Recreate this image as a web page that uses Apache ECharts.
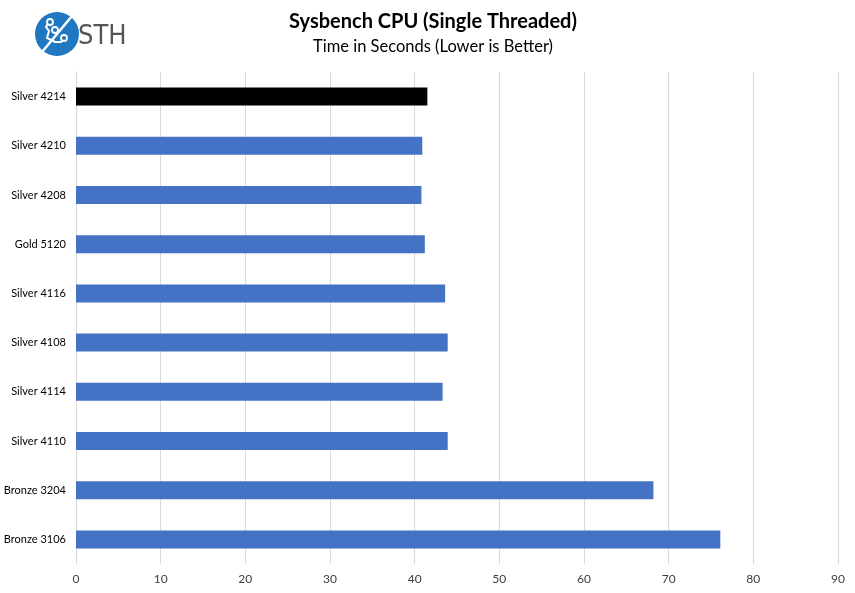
<!DOCTYPE html>
<html><head><meta charset="utf-8">
<script src="https://cdn.jsdelivr.net/npm/echarts@6/dist/echarts.min.js"></script>
<style>html,body{margin:0;padding:0;background:#fff}#c{width:855px;height:593px}</style>
</head><body><div id="c"></div>
<script>
const categories = ["Silver 4214","Silver 4210","Silver 4208","Gold 5120","Silver 4116","Silver 4108","Silver 4114","Silver 4110","Bronze 3204","Bronze 3106"];
const values = [41.5, 40.9, 40.8, 41.2, 43.6, 43.9, 43.3, 43.9, 68.2, 76.1];
const highlight = "Silver 4214";
const xTicks = [0,10,20,30,40,50,60,70,80,90];

const FONT = 'Lato, "Open Sans", sans-serif';
const chart = echarts.init(document.getElementById('c'));
chart.setOption({
  animation: false,
  backgroundColor: '#fff',
  title: {
    text: 'Sysbench CPU (Single Threaded)',
    subtext: 'Time in Seconds (Lower is Better)',
    left: 428, top: 7, textAlign: 'center',
    itemGap: 6,
    textStyle: {fontFamily: FONT, fontSize: 20, fontWeight: 'bold', color: '#000'},
    subtextStyle: {fontFamily: FONT, fontSize: 16.5, color: '#000'}
  },
  grid: {left: 76, right: 17, top: 72, bottom: 29, containLabel: false},
  xAxis: {
    type: 'value', min: xTicks[0], max: xTicks[xTicks.length-1], interval: 10,
    axisLine: {show: false}, axisTick: {show: false},
    splitLine: {lineStyle: {color: '#d9d9d9', width: 1}},
    axisLabel: {fontFamily: FONT, fontSize: 12, color: '#404040', margin: 9}
  },
  yAxis: {
    type: 'category', data: categories, inverse: true,
    axisLine: {show: true, lineStyle: {color: '#d9d9d9'}}, axisTick: {show: false},
    axisLabel: {fontFamily: FONT, fontSize: 11, color: '#000', margin: 10}
  },
  series: [{
    type: 'bar', barWidth: 18,
    data: categories.map((c, i) => ({value: values[i], itemStyle: {color: c === highlight ? '#000000' : '#4472C4'}}))
  }],
  graphic: [
    {type: 'circle', shape: {cx: 57, cy: 34, r: 22}, style: {fill: '#1f78c1'}},
    {type: 'line', shape: {x1: 42, y1: 52, x2: 72, y2: 16}, style: {stroke: '#fff', lineWidth: 2.5}},
    {type: 'polyline', shape: {points: [[49,22],[46,27],[49,31],[47,38],[55,42],[62,42]]}, style: {stroke: '#fff', lineWidth: 2, fill: null}},
    {type: 'circle', shape: {cx: 50, cy: 22, r: 3}, style: {fill: '#1f78c1', stroke: '#fff', lineWidth: 1.8}},
    {type: 'circle', shape: {cx: 55, cy: 30, r: 3}, style: {fill: '#1f78c1', stroke: '#fff', lineWidth: 1.8}},
    {type: 'circle', shape: {cx: 64, cy: 38, r: 3}, style: {fill: '#1f78c1', stroke: '#fff', lineWidth: 1.8}},
    {type: 'text', left: 78, top: 23, style: {text: 'STH', fontFamily: '"DejaVu Sans Condensed", "Liberation Sans Narrow", sans-serif', fontSize: 27, fill: '#555', fontWeight: 'normal'}}
  ]
});
</script></body></html>
